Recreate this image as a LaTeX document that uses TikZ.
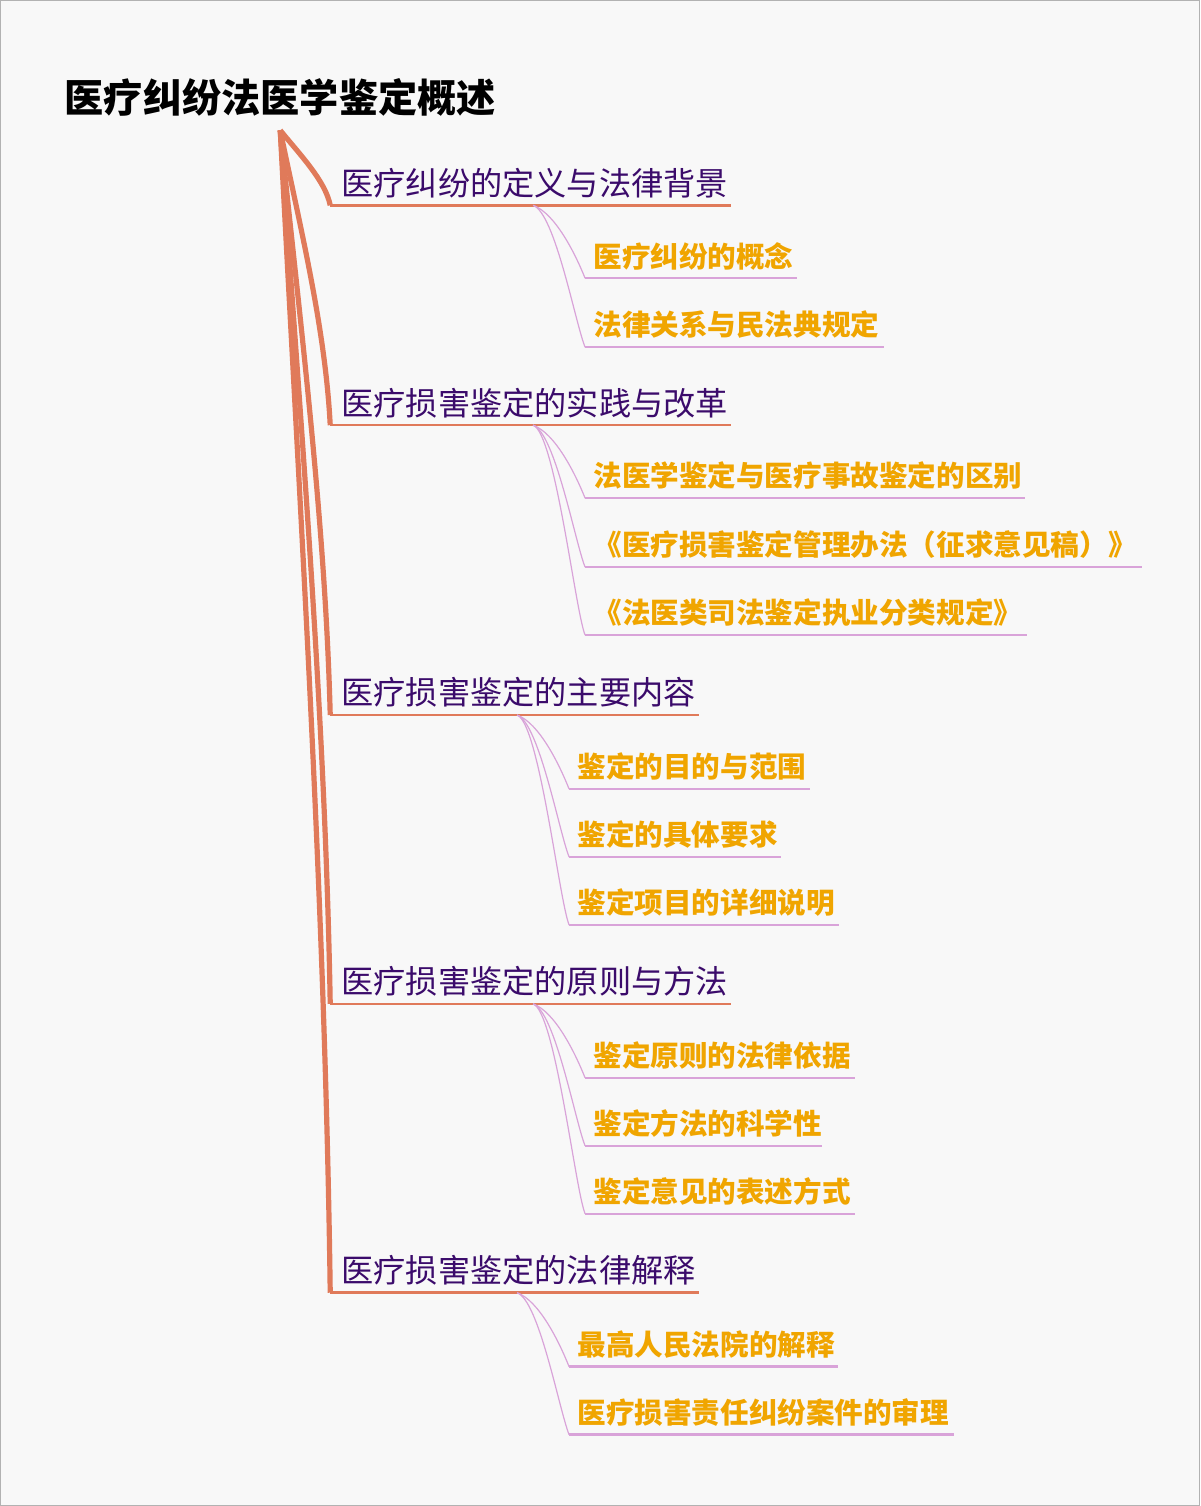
\documentclass[tikz,border=0pt]{standalone}
\usepackage{fontspec}
\setmainfont{Noto Sans CJK SC}
\definecolor{bg}{HTML}{F8F8F8}
\definecolor{lone}{HTML}{E07A5A}
\definecolor{ltwo}{HTML}{D9A3D9}
\definecolor{tone}{HTML}{3B0B6B}
\definecolor{ttwo}{HTML}{F0A500}
\tikzset{
 t1/.style={anchor=south west,inner sep=0pt,text=tone,font=\fontsize{16.1}{17}\selectfont},
 t2/.style={anchor=south west,inner sep=0pt,text=ttwo,font=\fontsize{14.3}{15}\selectfont\bfseries},
 b1/.style={draw=lone,line width=2.6pt},
 u1/.style={draw=lone,line width=1.3pt},
 b2/.style={draw=ltwo,line width=0.6pt},
 u2/.style={draw=ltwo,line width=1.2pt}}
\begin{document}
\begin{tikzpicture}[x=0.5pt,y=-0.5pt]
\path[fill=bg,draw=gray!60] (0,0) rectangle (1200,1506);
\node[anchor=south west,inner sep=0pt,font=\fontsize{19.6}{20}\selectfont\bfseries] (root) at (64,116) {医疗纠纷法医学鉴定概述};
\coordinate (r) at (280,130);
% level 1
\foreach \n/\y/\e/\t in {a/205/731/医疗纠纷的定义与法律背景, b/425/731/医疗损害鉴定的实践与改革, c/715/699/医疗损害鉴定的主要内容, d/1004/731/医疗损害鉴定的原则与方法, e/1293/699/医疗损害鉴定的法律解释}{
 \coordinate (\n s) at (330,\y);
 \coordinate (\n e) at (\e,\y);
 \draw[b1] (r) .. controls (300,130+0.33*\y-43) and (325,130+0.67*\y-87) .. (\n s);
 \draw[u1] (\n s) -- (\n e);
 \node[t1] (\n t) at (341,\y-7) {\t};
}
% level 2
\foreach \p/\px/\py/\y/\e/\t in {
 a/533/205/278/797/医疗纠纷的概念,
 a/533/205/347/884/法律关系与民法典规定,
 b/533/425/498/1025/法医学鉴定与医疗事故鉴定的区别,
 b/533/425/567/1142/《医疗损害鉴定管理办法（征求意见稿）》,
 b/533/425/635/1027/《法医类司法鉴定执业分类规定》,
 c/517/715/789/810/鉴定的目的与范围,
 c/517/715/857/781/鉴定的具体要求,
 c/517/715/925/839/鉴定项目的详细说明,
 d/533/1004/1078/855/鉴定原则的法律依据,
 d/533/1004/1146/822/鉴定方法的科学性,
 d/533/1004/1214/855/鉴定意见的表述方式,
 e/517/1293/1367/838/最高人民法院的解释,
 e/517/1293/1435/954/医疗损害责任纠纷案件的审理}{
 \coordinate (s) at (\px+52,\y);
 \draw[b2] (\px,\py) .. controls (\px+22,\py+8) and (\px+42,\y-25) .. (s);
 \draw[u2] (s) -- (\e,\y);
 \node[t2] at (\px+60,\y-8) {\t};
}
\end{tikzpicture}
\end{document}
